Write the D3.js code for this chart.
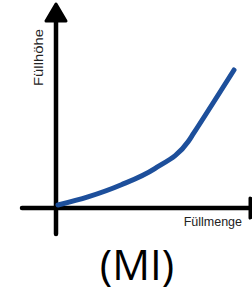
<!DOCTYPE html>
<html>
<head>
<meta charset="utf-8">
<script src="https://cdn.jsdelivr.net/npm/d3@7"></script>
<style>
  body { margin: 0; background: #fff; }
</style>
</head>
<body>
<div id="chart-area"></div>
<script>
// Füllmenge (x) vs Füllhöhe (y)
var menge = [0, 1.7, 3.6, 5.5, 7.4, 7.7, 10];
var hoehe = [0, 0.6, 1.5, 2.7, 4.7, 5.3, 10];
var xLabel = "Füllmenge", yLabel = "Füllhöhe", title = "(MI)";

var width = 252, height = 295;

var svg = d3.select("#chart-area").append("svg")
    .attr("width", width)
    .attr("height", height);

var x = d3.scaleLinear().domain([0, 10]).range([58, 234]);
var y = d3.scaleLinear().domain([0, 10]).range([205, 70]);

var ox = x(0) - 2, oy = y(0) + 3;

// axes
svg.append("line")
    .attr("x1", 22).attr("x2", 252)
    .attr("y1", oy).attr("y2", oy)
    .attr("stroke", "#000").attr("stroke-width", 4.5)
    .attr("stroke-linecap", "round");
svg.append("line")
    .attr("x1", ox).attr("x2", ox)
    .attr("y1", 20).attr("y2", 234)
    .attr("stroke", "#000").attr("stroke-width", 4.5)
    .attr("stroke-linecap", "round");

// arrow heads
svg.append("path")
    .attr("d", "M" + ox + ",4 L" + (ox + 10) + ",21 L" + (ox - 10) + ",21 Z")
    .attr("fill", "#000").attr("stroke", "#000")
    .attr("stroke-width", 3).attr("stroke-linejoin", "round");
svg.append("path")
    .attr("d", "M250," + (oy - 10) + " L270," + oy + " L250," + (oy + 10) + " Z")
    .attr("fill", "#000").attr("stroke", "#000")
    .attr("stroke-width", 3).attr("stroke-linejoin", "round");

// curve
var pts = menge.map(function(d, i) { return [d, hoehe[i]]; });
var line = d3.line()
    .x(function(d) { return x(d[0]); })
    .y(function(d) { return y(d[1]); })
    .curve(d3.curveMonotoneX);

svg.append("path")
    .datum(pts)
    .attr("d", line)
    .attr("fill", "none")
    .attr("stroke", "#1d4f9b")
    .attr("stroke-width", 5)
    .attr("stroke-linecap", "round");

// labels
svg.append("text")
    .attr("x", 242).attr("y", 226)
    .attr("text-anchor", "end")
    .attr("font-family", "Liberation Sans, Arial, sans-serif")
    .attr("font-size", 12.5)
    .attr("fill", "#222")
    .text(xLabel);

svg.append("text")
    .attr("transform", "translate(43,86) rotate(-90)")
    .attr("font-family", "Liberation Sans, Arial, sans-serif")
    .attr("font-size", 12.5)
    .attr("textLength", 57)
    .attr("lengthAdjust", "spacingAndGlyphs")
    .attr("fill", "#222")
    .text(yLabel);

svg.append("text")
    .attr("x", 137).attr("y", 280)
    .attr("text-anchor", "middle")
    .attr("font-family", "Open Sans, sans-serif")
    .attr("font-size", 42)
    .attr("fill", "#000")
    .text(title);
</script>
</body>
</html>
